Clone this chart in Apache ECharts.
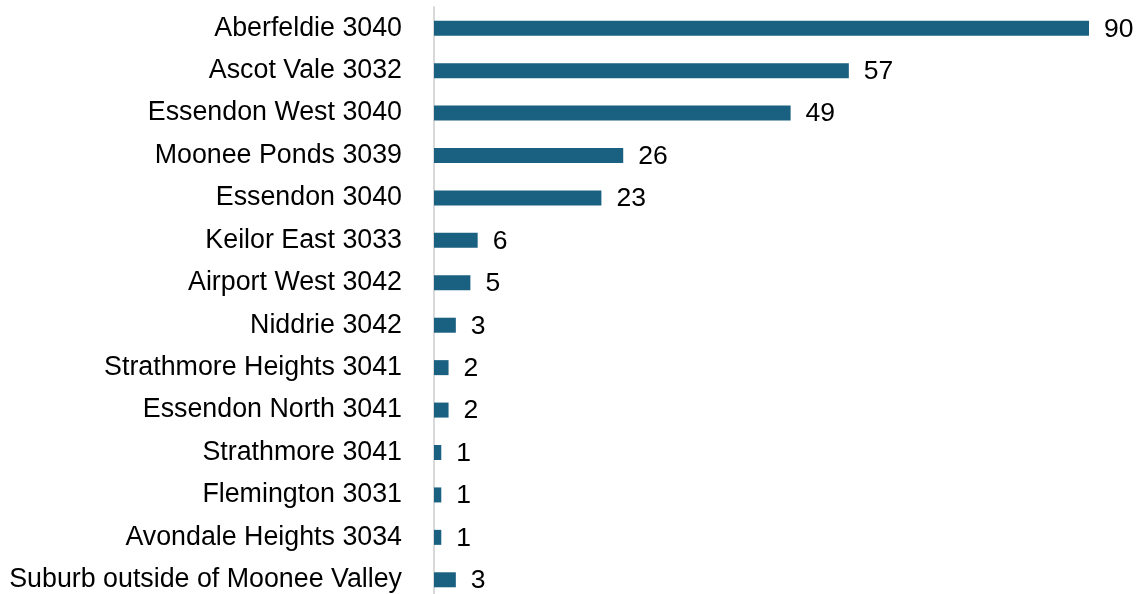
<!DOCTYPE html>
<html>
<head>
<meta charset="utf-8">
<script src="https://cdn.jsdelivr.net/npm/echarts@6/dist/echarts.min.js"></script>
<style>
  html, body { margin: 0; padding: 0; background: #fff; overflow: hidden; }
  #chart { width: 1140px; height: 601px; }
</style>
</head>
<body>
<div id="chart"></div>
<script>
// Suburbs, listed top to bottom
const suburbs = [
  'Aberfeldie 3040',
  'Ascot Vale 3032',
  'Essendon West 3040',
  'Moonee Ponds 3039',
  'Essendon 3040',
  'Keilor East 3033',
  'Airport West 3042',
  'Niddrie 3042',
  'Strathmore Heights 3041',
  'Essendon North 3041',
  'Strathmore 3041',
  'Flemington 3031',
  'Avondale Heights 3034',
  'Suburb outside of Moonee Valley'
];
// Count of respondents per suburb
const counts = [90, 57, 49, 26, 23, 6, 5, 3, 2, 2, 1, 1, 1, 3];

const chart = echarts.init(document.getElementById('chart'), null, { renderer: 'canvas' });
chart.setOption({
  animation: false,
  backgroundColor: '#ffffff',
  // the last row runs slightly past the bottom edge of the visible page
  grid: { left: 434, top: 7, width: 655, bottom: 0, containLabel: false },
  xAxis: {
    type: 'value',
    min: 0,
    max: 90,
    show: false
  },
  yAxis: {
    type: 'category',
    data: suburbs,
    inverse: true,
    axisLine: { show: true, lineStyle: { color: '#d9d9d9', width: 2 } },
    axisTick: { show: false },
    axisLabel: {
      margin: 32,
      color: '#000000',
      fontFamily: 'Liberation Sans, Arial, sans-serif',
      fontSize: 26.8
    }
  },
  series: [{
    type: 'bar',
    data: counts,
    barWidth: 15,
    itemStyle: { color: '#1a6081' },
    label: {
      show: true,
      position: 'right',
      distance: 15,
      offset: [0, 1],
      color: '#000000',
      fontFamily: 'Liberation Sans, Arial, sans-serif',
      fontSize: 26.5
    }
  }]
});
</script>
</body>
</html>
